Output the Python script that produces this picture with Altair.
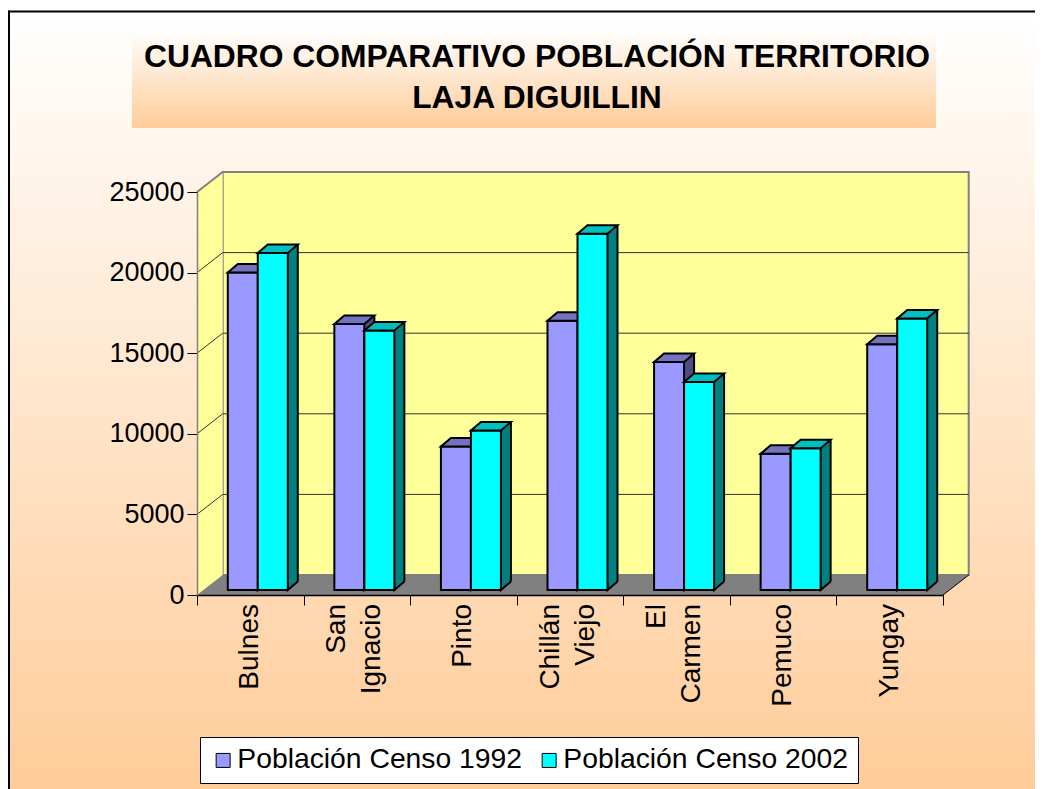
import altair as alt
import pandas as pd

# ---------------- data ----------------
comunas = ["Bulnes", "San Ignacio", "Pinto", "Chillán Viejo", "El Carmen", "Pemuco", "Yungay"]
censo_1992 = [19700, 16500, 8900, 16700, 14150, 8450, 15250]
censo_2002 = [20900, 16100, 9900, 22100, 12900, 8800, 16850]
series = ["Población Censo 1992", "Población Censo 2002"]
y_ticks = [0, 5000, 10000, 15000, 20000, 25000]
title_lines = ["CUADRO COMPARATIVO POBLACIÓN TERRITORIO", "LAJA DIGUILLIN"]

# ---------------- style ----------------
front_colors = ["#9999FF", "#00FFFF"]
top_colors = ["#7373BF", "#00BFBF"]
side_colors = ["#4D4D80", "#008080"]
FONT = "Liberation Sans"

W, H = 746, 403          # front plane of the 3D box
DX, DY = 25.7, -20       # depth of walls / floor
BW = 30                  # bar width
BDX, BDY = 10, -8.5      # bar depth
BAR_DY = -5              # bars stand slightly behind the front plane
bar_dx = [-7.5, 22.5]    # centre of each series' front face relative to band centre
SW = 2                   # outline width
PAD = {"left": 189, "top": 184, "right": 92, "bottom": 194}

rows = []
for s, vals in zip(series, [censo_1992, censo_2002]):
    for c, v in zip(comunas, vals):
        rows.append({"comuna": c, "serie": s, "valor": v})
df = pd.DataFrame(rows)
df_grid = pd.DataFrame({"tick": y_ticks[1:-1]})
df_top = pd.DataFrame({"tick": y_ticks[-1:]})
df_lab = pd.DataFrame({"comuna": comunas})
one = alt.Data(values=[{}])

x_scale = alt.Scale(domain=comunas, paddingInner=0, paddingOuter=0)
y_scale = alt.Scale(domain=[0, 25000], nice=False, zero=True)
x_axis = alt.Axis(title=None, labels=False, ticks=True, tickBand="extent", tickSize=10,
                  tickColor="black", tickWidth=1, domainColor="black", domainWidth=1.5,
                  grid=False, zindex=1)
y_axis = alt.Axis(title=None, values=y_ticks, format="d", tickSize=10, tickColor="black",
                  tickWidth=1, domainColor="#808080", domainWidth=1.5, grid=False,
                  labelFont=FONT, labelFontSize=27, labelColor="black", labelPadding=3,
                  zindex=1)

X = alt.X("comuna:N", scale=x_scale, axis=x_axis, sort=comunas)
Y = alt.Y("valor:Q", scale=y_scale, axis=y_axis, stack=None)

def grad(c0, c1):
    return {"gradient": "linear", "x1": 0, "y1": 0, "x2": 0, "y2": 1,
            "stops": [{"offset": 0, "color": c0}, {"offset": 1, "color": c1}]}

# ---------------- furniture ----------------
right_edge = W + PAD["right"]
bottom_edge = H + PAD["bottom"]
bg = alt.Chart(one).mark_rect(fill=grad("#FFFFFF", "#FFCC99"), strokeWidth=0).encode(
    x=alt.value(-188), x2=alt.value(right_edge), y=alt.value(-180.5), y2=alt.value(bottom_edge))
border_left = alt.Chart(one).mark_rule(color="black", strokeWidth=2).encode(
    x=alt.value(-188), y=alt.value(-181.5), y2=alt.value(bottom_edge))
border_top = alt.Chart(one).mark_rule(color="black", strokeWidth=2).encode(
    y=alt.value(-180.5), x=alt.value(-189), x2=alt.value(right_edge))

title_box = alt.Chart(one).mark_rect(fill=grad("#FFFFFF", "#FFCC99")).encode(
    x=alt.value(-65), x2=alt.value(739), y=alt.value(-162), y2=alt.value(-64))

title_text = alt.Chart(one).mark_text(font=FONT, fontSize=31.8, fontWeight="bold", align="center",
                                      baseline="middle", lineHeight=41, color="black").encode(
    x=alt.value(340), y=alt.value(-135), text=alt.value(title_lines))

back_wall = alt.Chart(one).mark_rect(fill="#FFFF99", stroke="#808080", strokeWidth=2).encode(
    x=alt.value(DX), x2=alt.value(W + DX), y=alt.value(DY), y2=alt.value(H + DY))

back_grid = alt.Chart(df_grid).mark_rule(color="#333333", strokeWidth=1, yOffset=DY).encode(
    y=alt.Y("tick:Q", scale=y_scale, axis=y_axis), x=alt.value(DX), x2=alt.value(W + DX))

side_wall = alt.Chart(one).mark_point(
    shape=f"M0,0 L{DX},{DY} L{DX},{DY - H} L0,{-H} Z", size=4, filled=True,
    fill="#FFFF99", strokeWidth=0, opacity=1).encode(x=alt.value(0), y=alt.value(H))

side_grid = alt.Chart(df_grid).mark_point(
    shape=f"M0,0 L{DX},{DY}", size=4, filled=False, color="#333333", strokeWidth=1, opacity=1).encode(
    x=alt.value(0), y=alt.Y("tick:Q", scale=y_scale, axis=y_axis))

side_top = alt.Chart(df_top).mark_point(
    shape=f"M0,0 L{DX},{DY}", size=4, filled=False, color="#808080", strokeWidth=2, opacity=1).encode(
    x=alt.value(0), y=alt.Y("tick:Q", scale=y_scale, axis=y_axis))

floor = alt.Chart(one).mark_point(
    shape=f"M0,0 L{W},0 L{W + DX},{DY} L{DX},{DY} Z", size=4, filled=True,
    fill="#808080", strokeWidth=0, opacity=1).encode(x=alt.value(0), y=alt.value(H))

floor_edge = alt.Chart(one).mark_point(
    shape=f"M{W},0 L{W + DX},{DY}", size=4, filled=False, color="black", strokeWidth=1, opacity=1).encode(
    x=alt.value(0), y=alt.value(H))

legend = alt.Legend(title=None, orient="none", legendX=3, legendY=545, direction="horizontal",
                    labelFont=FONT, labelFontSize=28.3, labelColor="black", labelLimit=500,
                    symbolType="square", symbolSize=196, symbolStrokeColor="black",
                    symbolStrokeWidth=1, fillColor="white", strokeColor="black", padding=9,
                    labelOffset=0, columnPadding=12, symbolOffset=0)

# ---------------- bars ----------------
bar_layers = []
for k, s in enumerate(series):
    base = alt.Chart(df).transform_filter(alt.datum.serie == s)
    side = base.mark_bar(width=BDX, xOffset=bar_dx[k] + BW / 2 + BDX / 2,
                         yOffset=BAR_DY + BDY, y2Offset=BAR_DY + BDY,
                         fill=side_colors[k], strokeWidth=0).encode(x=X, y=Y, y2=alt.datum(0))
    tri = base.mark_point(shape=f"M0,{BDY} L0,0 L{BDX},{BDY}", size=4, filled=True,
                          fill=side_colors[k], stroke="black", strokeWidth=SW, opacity=1,
                          xOffset=bar_dx[k] + BW / 2, yOffset=BAR_DY).encode(x=X, y=alt.datum(0))
    edge = base.mark_rule(color="black", strokeWidth=SW, xOffset=bar_dx[k] + BW / 2 + BDX,
                          yOffset=BAR_DY + BDY, y2Offset=BAR_DY + BDY).encode(x=X, y=Y, y2=alt.datum(0))
    front = base.mark_bar(width=BW, xOffset=bar_dx[k], yOffset=BAR_DY, y2Offset=BAR_DY,
                          stroke="black", strokeWidth=SW, opacity=1).encode(
        x=X, y=Y, y2=alt.datum(0),
        color=alt.Color("serie:N", scale=alt.Scale(domain=series, range=front_colors), legend=legend))
    top = base.mark_point(shape=f"M0,0 L{BW},0 L{BW + BDX},{BDY} L{BDX},{BDY} Z", size=4,
                          filled=True, fill=top_colors[k], stroke="black", strokeWidth=SW, opacity=1,
                          xOffset=bar_dx[k] - BW / 2, yOffset=BAR_DY).encode(x=X, y=Y)
    bar_layers += [side, tri, edge, front, top]

# ---------------- category labels ----------------
lab = alt.Chart(df_lab).transform_calculate(
    lines="split(datum.comuna, ' ')", n="length(split(datum.comuna, ' '))")
lab1 = lab.transform_filter("datum.n == 1").mark_text(
    angle=270, align="right", baseline="middle", font=FONT, fontSize=28, color="black",
    lineHeight=35).encode(x=X, y=alt.value(H + 9), text="lines:N")
lab2 = lab.transform_filter("datum.n == 2").mark_text(
    angle=270, align="right", baseline="middle", font=FONT, fontSize=28, color="black",
    lineHeight=35, dy=-17.5, xOffset=-2).encode(x=X, y=alt.value(H + 9), text="lines:N")

chart = alt.layer(
    bg, border_left, border_top, title_box, title_text, back_wall, back_grid, side_wall,
    side_grid, side_top, floor, floor_edge, *bar_layers, lab1, lab2
).properties(
    width=W, height=H,
    autosize=alt.AutoSizeParams(type="none"),
    padding=PAD,
).configure_view(strokeWidth=0).configure(font=FONT)

chart.save("out.html", embed_options={"renderer": "svg", "actions": False})
